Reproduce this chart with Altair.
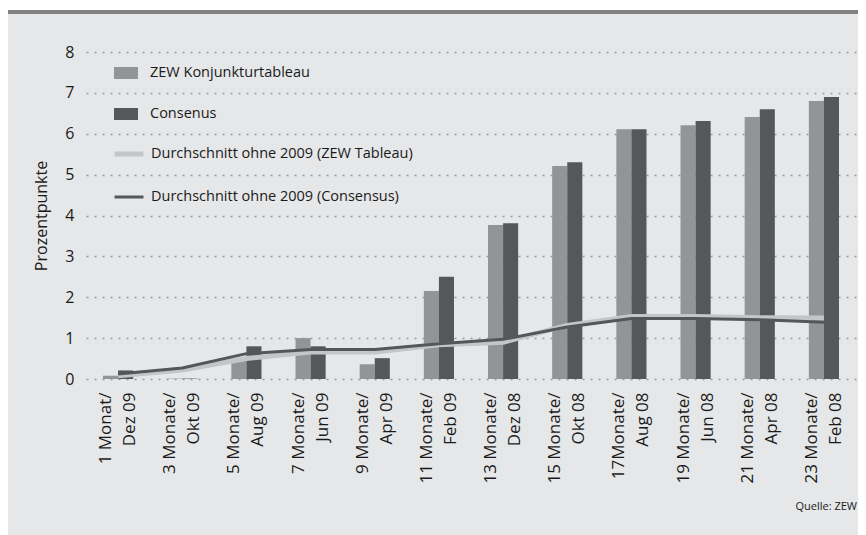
import altair as alt
import pandas as pd

categories = ["1 Monat/|Dez 09", "3 Monate/|Okt 09", "5 Monate/|Aug 09", "7 Monate/|Jun 09",
              "9 Monate/|Apr 09", "11 Monate/|Feb 09", "13 Monate/|Dez 08", "15 Monate/|Okt 08",
              "17Monate/|Aug 08", "19 Monate/|Jun 08", "21 Monate/|Apr 08", "23 Monate/|Feb 08"]
zew = [0.08, 0.01, 0.45, 1.0, 0.36, 2.15, 3.77, 5.21, 6.11, 6.21, 6.41, 6.8]
consensus = [0.21, 0.01, 0.8, 0.8, 0.51, 2.5, 3.81, 5.3, 6.11, 6.31, 6.6, 6.9]
avg_zew = [0.08, 0.22, 0.5, 0.66, 0.66, 0.84, 0.9, 1.31, 1.53, 1.53, 1.5, 1.49]
avg_cons = [0.12, 0.27, 0.62, 0.72, 0.72, 0.86, 0.97, 1.27, 1.48, 1.48, 1.45, 1.39]

bar_names = ["ZEW Konjunkturtableau", "Consenus"]
line_names = ["Durchschnitt ohne 2009 (ZEW Tableau)", "Durchschnitt ohne 2009 (Consensus)"]

bars = pd.DataFrame(
    [{"cat": c, "series": bar_names[0], "v": v} for c, v in zip(categories, zew)]
    + [{"cat": c, "series": bar_names[1], "v": v} for c, v in zip(categories, consensus)]
)
lines = pd.DataFrame(
    [{"cat": c, "line": line_names[0], "v": v} for c, v in zip(categories, avg_zew)]
    + [{"cat": c, "line": line_names[1], "v": v} for c, v in zip(categories, avg_cons)]
)

FONT = "Open Sans"
TXT = "#1a1a1a"

xscale = alt.Scale(domain=categories, paddingInner=0.53, paddingOuter=0.265)
yscale = alt.Scale(domain=[0, 8], nice=False)

x_axis = alt.Axis(
    title=None, labelAngle=-90, labelAlign="right", labelBaseline="middle",
    labelExpr="split(datum.label, '|')", labelLineHeight=24, labelPadding=13,
    labelOffset=-12,
    labelFontSize=17, labelFont=FONT, labelColor=TXT, ticks=False, domain=False,
    grid=False, labelOverlap=False, labelLimit=0,
)
y_axis = alt.Axis(
    title="Prozentpunkte", values=[0, 1, 2, 3, 4, 5, 6, 7, 8], labelPadding=12,
    labelFontSize=16, labelFont=FONT, labelColor=TXT, ticks=False, domain=False,
    grid=True, gridDash=[2, 6], gridColor="#9a9a9a", gridWidth=1.5,
    titleFont=FONT, titleFontSize=16, titleFontWeight="normal", titleColor=TXT,
    titlePadding=15,
)

bar_layer = alt.Chart(bars).mark_bar().encode(
    x=alt.X("cat:N", scale=xscale, axis=x_axis, sort=categories),
    xOffset=alt.XOffset("series:N", scale=alt.Scale(domain=bar_names, paddingInner=0, paddingOuter=0)),
    y=alt.Y("v:Q", scale=yscale, axis=y_axis),
    color=alt.Color("series:N",
                    scale=alt.Scale(domain=bar_names, range=["#939498", "#56575b"]),
                    legend=alt.Legend(title=None, orient="none", legendX=28, legendY=9,
                                      symbolType="M-1,-0.5H1V0.5H-1Z", symbolSize=576,
                                      symbolStrokeWidth=0, rowPadding=22, labelOffset=12,
                                      labelFont=FONT, labelFontSize=14.5, labelColor=TXT,
                                      padding=0, symbolOpacity=1, labelLimit=0)),
)

line_layer = alt.Chart(lines).mark_line(strokeCap="butt", strokeJoin="round").encode(
    x=alt.X("cat:N", scale=xscale, sort=categories),
    y=alt.Y("v:Q", scale=yscale),
    stroke=alt.Stroke("line:N",
                      scale=alt.Scale(domain=line_names, range=["#c4c5c7", "#55565a"]),
                      legend=alt.Legend(title=None, orient="none", legendX=26, legendY=85,
                                        symbolType="stroke", symbolSize=841,
                                        rowPadding=17, labelOffset=5,
                                        labelFont=FONT, labelFontSize=14.5, labelColor=TXT,
                                        padding=0, labelLimit=0)),
    strokeWidth=alt.StrokeWidth("line:N",
                                scale=alt.Scale(domain=line_names, range=[5, 3]),
                                legend=None),
)

one = pd.DataFrame({"t": ["Quelle: ZEW"]})
white_band = alt.Chart(one).mark_rect(color="white").encode(
    x=alt.value(-78), x2=alt.value(772), y=alt.value(-44), y2=alt.value(-42))
top_bar = alt.Chart(one).mark_rect(color="#818181").encode(
    x=alt.value(-78), x2=alt.value(772), y=alt.value(-42), y2=alt.value(-38))
source = alt.Chart(one).mark_text(align="right", baseline="middle", font=FONT,
                                  fontSize=11, color=TXT).encode(
    x=alt.value(771), y=alt.value(455), text="t:N")

chart = alt.layer(white_band, top_bar, bar_layer, line_layer, source).properties(
    width=770, height=327,
    autosize=alt.AutoSizeParams(type="none"),
    padding={"left": 78, "top": 44, "right": 2, "bottom": 156},
    background="#e6e7e8",
).configure_view(stroke=None).resolve_scale(color="independent")

chart.save("out.html", embed_options={"renderer": "svg", "actions": False})
